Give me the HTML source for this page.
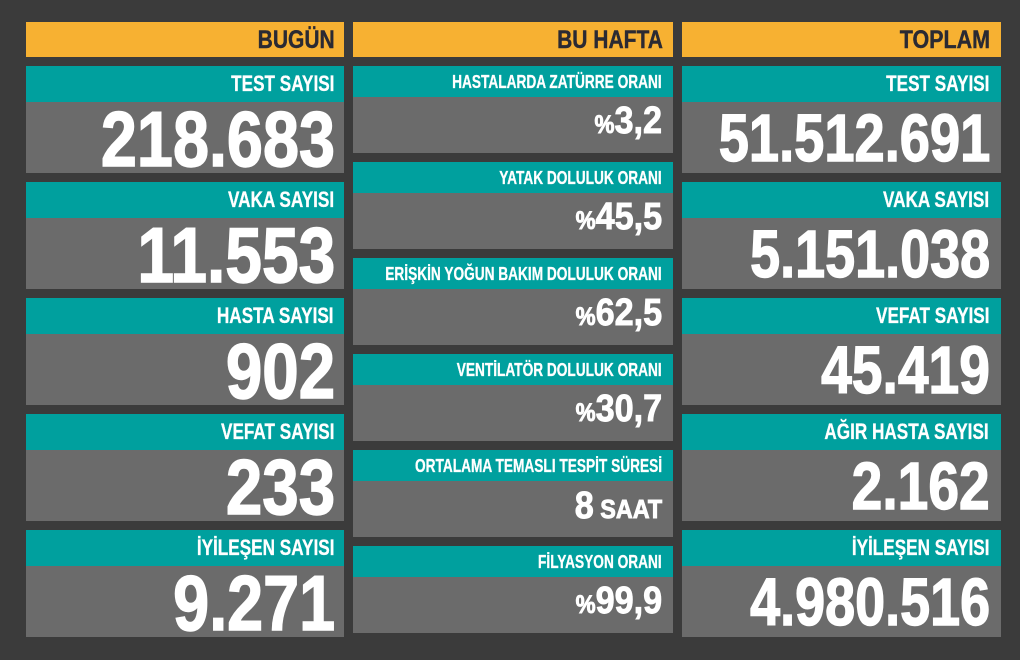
<!DOCTYPE html>
<html><head><meta charset="utf-8">
<style>
html,body{margin:0;padding:0}
body{width:1020px;height:660px;background:#3b3b3b;overflow:hidden;position:relative;font-family:"Liberation Sans",sans-serif;font-weight:bold}
.b{position:absolute}
.o{background:#f7b132}
.c{background:#00a09e}
.g{background:#6b6b6b}
.t{position:absolute;white-space:nowrap;text-align:right}
.t>span{display:inline-block;transform-origin:100% 50%}
.h{font-size:25px;line-height:25px;color:#2a2a33;-webkit-text-stroke:0.4px #2a2a33}
.l{font-size:22px;line-height:22px;color:#fff;-webkit-text-stroke:0.3px #fff}
.m{font-size:18px;line-height:18px;color:#fff;-webkit-text-stroke:0.3px #fff}
.n{font-size:78px;line-height:78px;color:#fff;-webkit-text-stroke:1.5px #fff}
.r{font-size:67px;line-height:67px;color:#fff;-webkit-text-stroke:1.4px #fff}
.v{font-size:38px;line-height:38px;color:#fff;-webkit-text-stroke:0.9px #fff}
.v .p{font-size:25px;line-height:0}
.v .s{font-size:26px;line-height:0}
</style></head><body>

<!-- headers -->
<div class="b o" style="left:26px;top:22px;width:318px;height:35px"></div>
<div class="b o" style="left:353px;top:22px;width:320px;height:35px"></div>
<div class="b o" style="left:682px;top:22px;width:319px;height:35px"></div>
<div class="t h" style="right:685px;top:28px"><span style="transform:scaleX(0.84)">BUGÜN</span></div>
<div class="t h" style="right:357px;top:28px"><span style="transform:scaleX(0.84)">BU HAFTA</span></div>
<div class="t h" style="right:30px;top:28px"><span style="transform:scaleX(0.86)">TOPLAM</span></div>

<!-- left column boxes -->
<div class="b c" style="left:26px;top:66px;width:318px;height:36px"></div>
<div class="b g" style="left:26px;top:102px;width:318px;height:71px"></div>
<div class="b c" style="left:26px;top:182px;width:318px;height:36px"></div>
<div class="b g" style="left:26px;top:218px;width:318px;height:71px"></div>
<div class="b c" style="left:26px;top:298px;width:318px;height:36px"></div>
<div class="b g" style="left:26px;top:334px;width:318px;height:71px"></div>
<div class="b c" style="left:26px;top:414px;width:318px;height:36px"></div>
<div class="b g" style="left:26px;top:450px;width:318px;height:71px"></div>
<div class="b c" style="left:26px;top:530px;width:318px;height:36px"></div>
<div class="b g" style="left:26px;top:566px;width:318px;height:71px"></div>

<div class="t l" style="right:686px;top:73.4px"><span style="transform:scaleX(0.78)">TEST SAYISI</span></div>
<div class="t l" style="right:686px;top:189.4px"><span style="transform:scaleX(0.78)">VAKA SAYISI</span></div>
<div class="t l" style="right:686px;top:305.4px"><span style="transform:scaleX(0.78)">HASTA SAYISI</span></div>
<div class="t l" style="right:686px;top:421.4px"><span style="transform:scaleX(0.78)">VEFAT SAYISI</span></div>
<div class="t l" style="right:686px;top:537.4px"><span style="transform:scaleX(0.78)">İYİLEŞEN SAYISI</span></div>

<div class="t n" style="right:685px;top:100px"><span style="transform:scaleX(0.83)">218.683</span></div>
<div class="t n" style="right:685px;top:216px"><span style="transform:scaleX(0.845)">11.553</span></div>
<div class="t n" style="right:685px;top:332px"><span style="transform:scaleX(0.84)">902</span></div>
<div class="t n" style="right:685px;top:448px"><span style="transform:scaleX(0.84)">233</span></div>
<div class="t n" style="right:685px;top:564px"><span style="transform:scaleX(0.83)">9.271</span></div>

<!-- middle column boxes -->
<div class="b c" style="left:353px;top:66px;width:320px;height:31px"></div>
<div class="b g" style="left:353px;top:97px;width:320px;height:56px"></div>
<div class="b c" style="left:353px;top:162px;width:320px;height:31px"></div>
<div class="b g" style="left:353px;top:193px;width:320px;height:56px"></div>
<div class="b c" style="left:353px;top:258px;width:320px;height:31px"></div>
<div class="b g" style="left:353px;top:289px;width:320px;height:56px"></div>
<div class="b c" style="left:353px;top:354px;width:320px;height:31px"></div>
<div class="b g" style="left:353px;top:385px;width:320px;height:56px"></div>
<div class="b c" style="left:353px;top:450px;width:320px;height:31px"></div>
<div class="b g" style="left:353px;top:481px;width:320px;height:56px"></div>
<div class="b c" style="left:353px;top:546px;width:320px;height:31px"></div>
<div class="b g" style="left:353px;top:577px;width:320px;height:56px"></div>

<div class="t m" style="right:358px;top:72.8px"><span style="transform:scaleX(0.76)">HASTALARDA ZATÜRRE ORANI</span></div>
<div class="t m" style="right:358px;top:168.8px"><span style="transform:scaleX(0.76)">YATAK DOLULUK ORANI</span></div>
<div class="t m" style="right:358px;top:264.8px"><span style="transform:scaleX(0.76)">ERİŞKİN YOĞUN BAKIM DOLULUK ORANI</span></div>
<div class="t m" style="right:358px;top:360.8px"><span style="transform:scaleX(0.76)">VENTİLATÖR DOLULUK ORANI</span></div>
<div class="t m" style="right:358px;top:456.8px"><span style="transform:scaleX(0.76)">ORTALAMA TEMASLI TESPİT SÜRESİ</span></div>
<div class="t m" style="right:358px;top:552.8px"><span style="transform:scaleX(0.76)">FİLYASYON ORANI</span></div>

<div class="t v" style="right:358px;top:102px"><span style="transform:scaleX(0.9)"><span class="p">%</span>3,2</span></div>
<div class="t v" style="right:358px;top:198px"><span style="transform:scaleX(0.9)"><span class="p">%</span>45,5</span></div>
<div class="t v" style="right:358px;top:294px"><span style="transform:scaleX(0.9)"><span class="p">%</span>62,5</span></div>
<div class="t v" style="right:358px;top:390px"><span style="transform:scaleX(0.9)"><span class="p">%</span>30,7</span></div>
<div class="t v" style="right:358px;top:487px"><span style="transform:scaleX(0.9)">8<span class="s"> SAAT</span></span></div>
<div class="t v" style="right:358px;top:582px"><span style="transform:scaleX(0.9)"><span class="p">%</span>99,9</span></div>

<!-- right column boxes -->
<div class="b c" style="left:682px;top:66px;width:319px;height:36px"></div>
<div class="b g" style="left:682px;top:102px;width:319px;height:71px"></div>
<div class="b c" style="left:682px;top:182px;width:319px;height:36px"></div>
<div class="b g" style="left:682px;top:218px;width:319px;height:71px"></div>
<div class="b c" style="left:682px;top:298px;width:319px;height:36px"></div>
<div class="b g" style="left:682px;top:334px;width:319px;height:71px"></div>
<div class="b c" style="left:682px;top:414px;width:319px;height:36px"></div>
<div class="b g" style="left:682px;top:450px;width:319px;height:71px"></div>
<div class="b c" style="left:682px;top:530px;width:319px;height:36px"></div>
<div class="b g" style="left:682px;top:566px;width:319px;height:71px"></div>

<div class="t l" style="right:31px;top:73.4px"><span style="transform:scaleX(0.78)">TEST SAYISI</span></div>
<div class="t l" style="right:31px;top:189.4px"><span style="transform:scaleX(0.78)">VAKA SAYISI</span></div>
<div class="t l" style="right:31px;top:305.4px"><span style="transform:scaleX(0.78)">VEFAT SAYISI</span></div>
<div class="t l" style="right:31px;top:421.4px"><span style="transform:scaleX(0.78)">AĞIR HASTA SAYISI</span></div>
<div class="t l" style="right:31px;top:537.4px"><span style="transform:scaleX(0.78)">İYİLEŞEN SAYISI</span></div>

<div class="t r" style="right:30px;top:105.3px"><span style="transform:scaleX(0.81)">51.512.691</span></div>
<div class="t r" style="right:30px;top:221.3px"><span style="transform:scaleX(0.805)">5.151.038</span></div>
<div class="t r" style="right:30px;top:337.3px"><span style="transform:scaleX(0.824)">45.419</span></div>
<div class="t r" style="right:30px;top:453.3px"><span style="transform:scaleX(0.823)">2.162</span></div>
<div class="t r" style="right:30px;top:569.3px"><span style="transform:scaleX(0.805)">4.980.516</span></div>

</body></html>
